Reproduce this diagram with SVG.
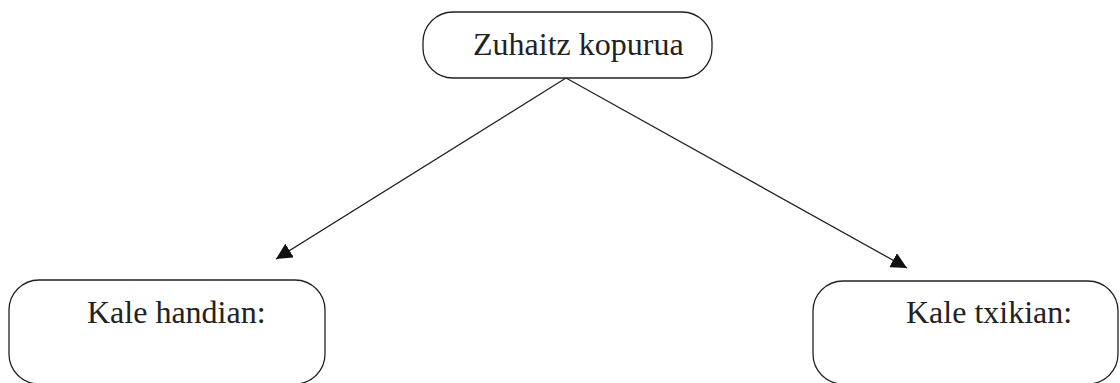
<svg xmlns="http://www.w3.org/2000/svg" width="1120" height="383" viewBox="0 0 1120 383">
<style>
.box{fill:#fff;stroke:#222;stroke-width:1.3}
.lbl{font-family:"Liberation Serif",serif;font-size:32px;fill:#222}
.edge{stroke:#222;stroke-width:1.3;fill:none}
</style>
<defs>
<marker id="arr" viewBox="0 0 10 10" refX="10" refY="5" markerWidth="16" markerHeight="16" markerUnits="userSpaceOnUse" orient="auto">
<path d="M0,0 L10,5 L0,10 z" fill="#111"/>
</marker>
</defs>
<rect width="1120" height="383" fill="#fff"/>
<g id="connectors">
<line class="edge" x1="566" y1="78" x2="276" y2="259" marker-end="url(#arr)"/>
<line class="edge" x1="566" y1="78" x2="907" y2="268" marker-end="url(#arr)"/>
</g>
<g id="node-top">
<rect class="box" x="423" y="12" width="289" height="66" rx="30" ry="30"/>
<text class="lbl" x="473" y="55">Zuhaitz kopurua</text>
</g>
<g id="node-left">
<rect class="box" x="9" y="280" width="316" height="104" rx="30" ry="30"/>
<text class="lbl" x="87" y="323">Kale handian:</text>
</g>
<g id="node-right">
<rect class="box" x="813" y="281" width="305" height="103" rx="30" ry="30"/>
<text class="lbl" x="906" y="323">Kale txikian:</text>
</g>
</svg>
